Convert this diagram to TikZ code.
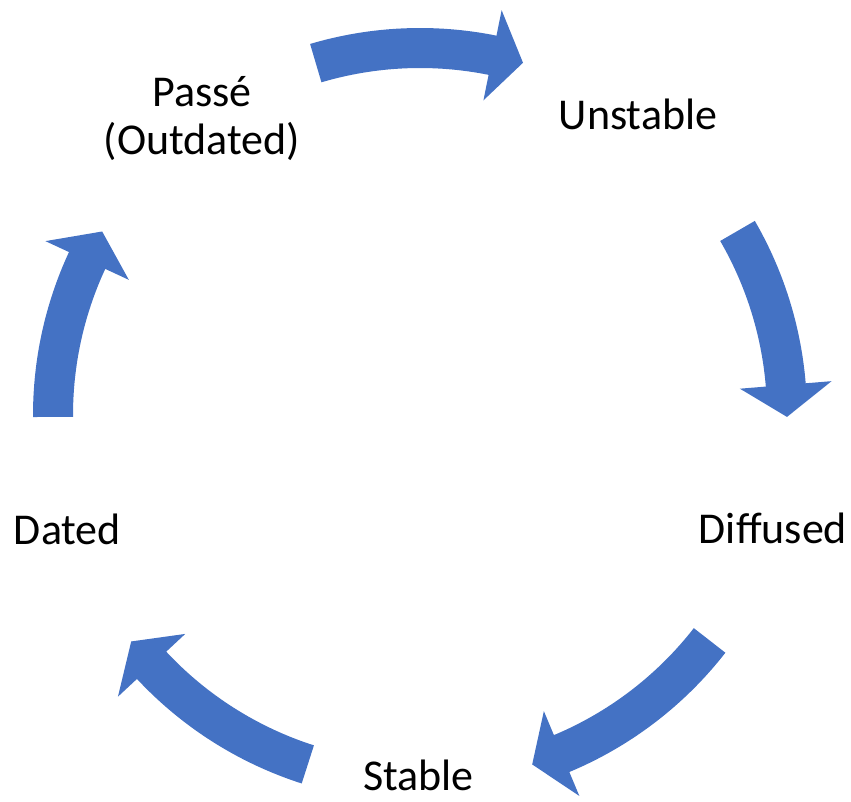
\documentclass[tikz,border=0pt]{standalone}
\usepackage{fontspec}
\setmainfont{Carlito}
\definecolor{cyclearrowblue}{HTML}{4472C4}
\tikzset{
  steplabel/.style={font=\fontsize{44pt}{48pt}\selectfont, inner sep=0pt, text=black, align=center},
  cyclefill/.style={fill=cyclearrowblue, draw=none}
}
% #1 tail angle, #2 head-base angle, #3 tip angle
\newcommand\cyclearrow[3]{%
  \path[cyclefill] (#1:387pt) arc[start angle=#1, end angle=#2, radius=387pt]
    -- (#2:413pt) -- (#3:367pt) -- (#2:321pt) -- (#2:347pt)
    arc[start angle=#2, end angle=#1, radius=347pt] -- cycle;}
\begin{document}
\begin{tikzpicture}[x=1pt,y=1pt]
\useasboundingbox (0,0) rectangle (851,801);
% labels
\node[steplabel, anchor=base] (unstable) at (638,671.5) {Unstable};
\node[steplabel, anchor=base] (diffused) at (773,257.5) {Diffused};
\node[steplabel, anchor=base] (stable) at (418.5,11) {Stable};
\node[steplabel, anchor=base] (dated) at (67.5,256) {Dated};
\node[steplabel, anchor=base] (passe) at (202,646) {Passé\\(Outdated)};
% arrows
\begin{scope}[shift={(420,386)}]
  \cyclearrow{106.5}{78.6}{73.7}
  \cyclearrow{30.1}{4.7}{-0.3}
  \cyclearrow{-37.9}{-67.3}{-72.2}
  \cyclearrow{-107.8}{-137}{-141.9}
  \cyclearrow{180.3}{155.1}{150}
\end{scope}
\end{tikzpicture}
\end{document}
